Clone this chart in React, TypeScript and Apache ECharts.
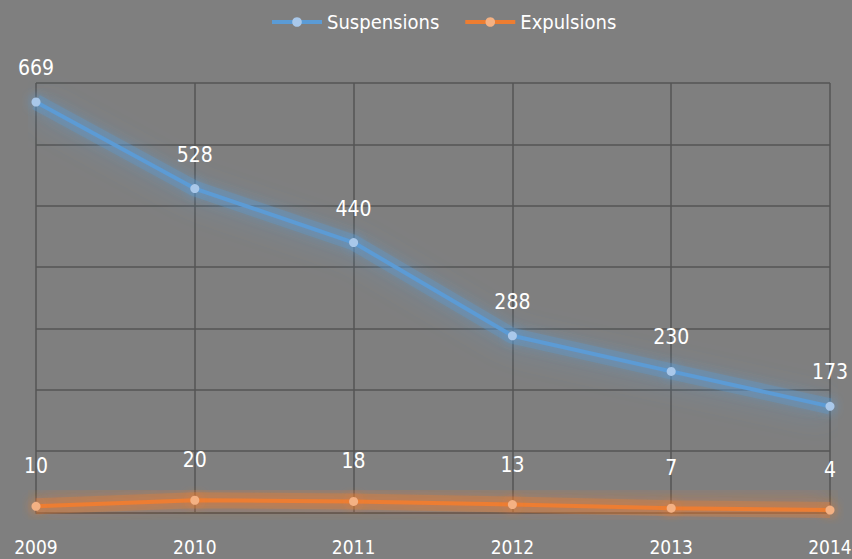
import React, { useEffect, useRef } from "react";
import * as echarts from "echarts";

const years = ["2009", "2010", "2011", "2012", "2013", "2014"];
const suspensions = [669, 528, 440, 288, 230, 173];
const expulsions = [10, 20, 18, 13, 7, 4];
const yMax = 700;
const yInterval = 100;

const FONT = "'DejaVu Sans Condensed', 'Liberation Sans Narrow', sans-serif";

const glow = (name: string, data: number[], color: string, offY: number) => ({
  name: name + "-glow",
  type: "line",
  data,
  symbol: "none",
  silent: true,
  lineStyle: {
    color,
    width: 16,
    opacity: 0.3,
    shadowBlur: 28,
    shadowColor: color,
    shadowOffsetY: offY,
  },
  z: 2,
});

export default function App() {
  const ref = useRef<HTMLDivElement>(null);
  useEffect(() => {
    if (!ref.current) return;
    const chart = echarts.init(ref.current, undefined, { renderer: "svg" });
    const gridColor = "#555555";
    chart.setOption({
      animation: false,
      backgroundColor: "#7f7f7f",
      textStyle: { fontFamily: FONT },
      legend: {
        top: 7,
        left: 265,
        itemWidth: 50,
        itemHeight: 12,
        itemGap: 24,
        lineStyle: { width: 4 },
        textStyle: { color: "#ffffff", fontSize: 20, fontFamily: FONT },
        data: ["Suspensions", "Expulsions"],
      },
      grid: {
        left: 36,
        right: 22,
        top: 83,
        bottom: 46.5,
        containLabel: false,
        outerBoundsMode: "none",
      },
      xAxis: {
        type: "category",
        data: years,
        boundaryGap: false,
        axisLine: { show: true, lineStyle: { color: gridColor, width: 1.5 } },
        axisTick: { show: false },
        axisLabel: { color: "#ffffff", fontSize: 19, fontFamily: FONT, margin: 25 },
        splitLine: { show: true, lineStyle: { color: gridColor, width: 1.5 } },
      },
      yAxis: {
        type: "value",
        min: 0,
        max: yMax,
        interval: yInterval,
        axisLine: { show: false },
        axisTick: { show: false },
        axisLabel: { show: false },
        splitLine: { show: true, lineStyle: { color: gridColor, width: 1.5 } },
      },
      series: [
        glow("Suspensions", suspensions, "#5b9bd5", 4),
        glow("Expulsions", expulsions, "#ed7d31", -5),
        {
          name: "Suspensions",
          type: "line",
          data: suspensions,
          symbol: "circle",
          symbolSize: 9,
          color: "#5b9bd5",
          itemStyle: {
            color: "#a9c8ea",
            borderWidth: 0,
            shadowBlur: 12,
            shadowColor: "rgba(91,155,213,1)",
          },
          lineStyle: {
            color: "#5b9bd5",
            width: 4,
            shadowBlur: 14,
            shadowColor: "rgba(91,155,213,1)",
          },
          label: {
            show: true,
            position: "top",
            distance: 19,
            color: "#ffffff",
            fontSize: 21,
            fontFamily: FONT,
          },
          z: 3,
        },
        {
          name: "Expulsions",
          type: "line",
          data: expulsions,
          symbol: "circle",
          symbolSize: 9,
          color: "#ed7d31",
          itemStyle: {
            color: "#f4b183",
            borderWidth: 0,
            shadowBlur: 12,
            shadowColor: "rgba(237,125,49,1)",
          },
          lineStyle: {
            color: "#ed7d31",
            width: 4,
            shadowBlur: 14,
            shadowColor: "rgba(237,125,49,1)",
          },
          label: {
            show: true,
            position: "top",
            distance: 25,
            color: "#ffffff",
            fontSize: 21,
            fontFamily: FONT,
          },
          z: 3,
        },
      ],
    });
    return () => chart.dispose();
  }, []);
  return (
    <div
      ref={ref}
      style={{ position: "fixed", left: 0, top: 0, width: 852, height: 559 }}
    />
  );
}
